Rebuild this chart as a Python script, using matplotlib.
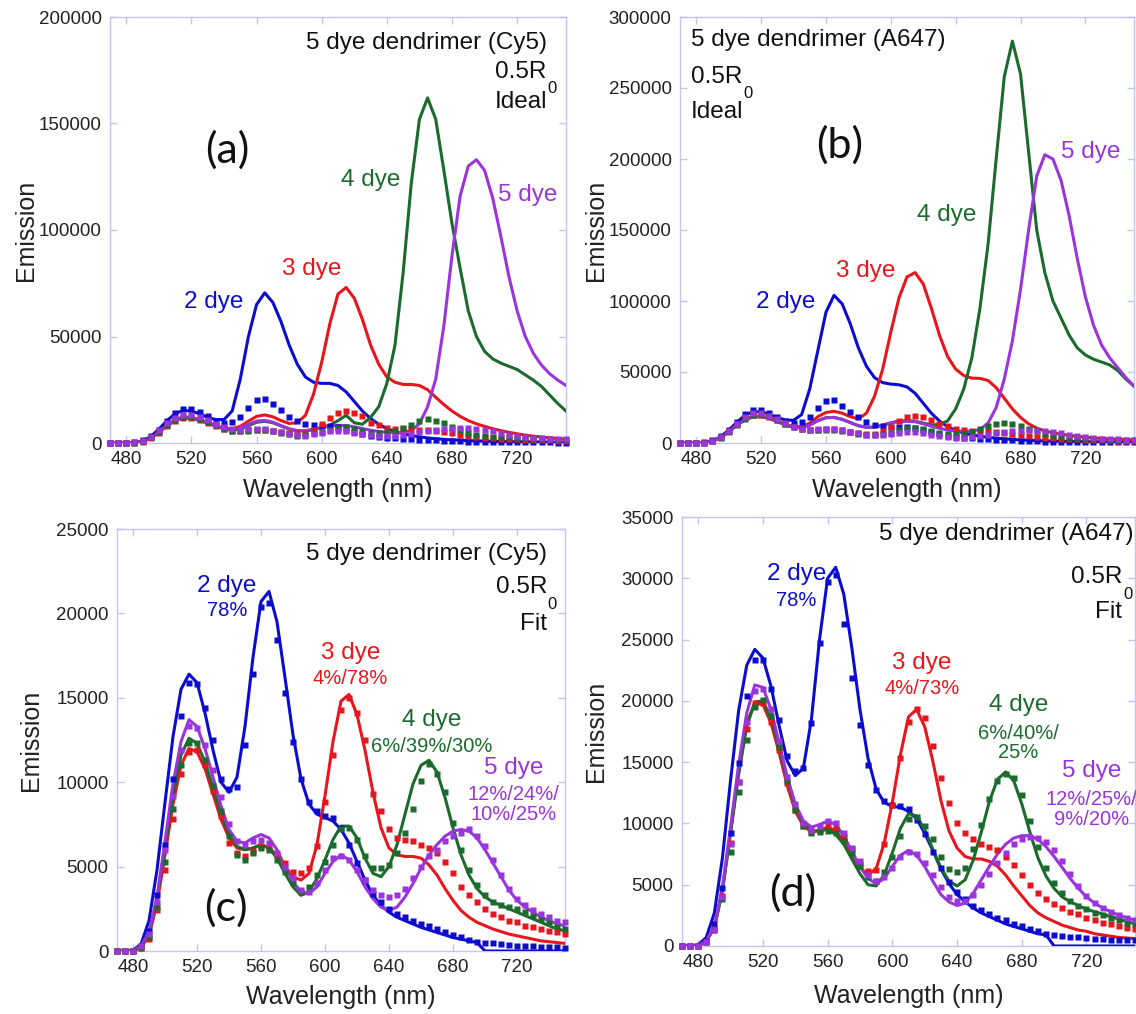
import numpy as np
import matplotlib
matplotlib.use("Agg")
import matplotlib.pyplot as plt

plt.rcParams['font.family'] = ['Liberation Sans', 'DejaVu Sans']

# Wavelength grid (nm), one sample every 5 nm
wl = np.arange(470, 751, 5)

# ---------------- Cy5 dendrimer: measured spectra (squares) ----------------
cy5_exp_2dye = [0, 0, 0, 300, 1200, 3300, 6300, 10200, 13900, 15900,
                15800, 14400, 12500, 10200, 9600, 9700, 12200, 16400, 20400, 20600,
                18400, 15300, 12400, 10200, 8800, 8300, 8000, 7900, 7300, 6300,
                5200, 4200, 3400, 2900, 2500, 2200, 2000, 1800, 1600, 1500,
                1300, 1100, 950, 800, 650, 550, 500, 450, 400, 350,
                320, 300, 280, 260, 240, 220, 200]
cy5_exp_3dye = [0, 0, 0, 200, 700, 2400, 4800, 7800, 10500, 11800,
                11900, 11000, 9500, 8000, 6400, 5800, 5600, 5900, 6200, 6100,
                5700, 5200, 4700, 4600, 4900, 6200, 8800, 11600, 14300, 15000,
                14100, 12500, 9300, 8300, 7200, 6700, 6600, 6500, 6300, 6100,
                5800, 5300, 4600, 3800, 3300, 2900, 2500, 2200, 2000, 1800,
                1700, 1500, 1400, 1300, 1200, 1100, 1000]
cy5_exp_4dye = [0, 0, 0, 200, 800, 2600, 5300, 8400, 11000, 12300,
                12300, 11300, 9800, 8300, 6800, 5700, 5400, 5800, 6100, 6000,
                5400, 4700, 4000, 3500, 3800, 4500, 5300, 6300, 7200, 7300,
                6600, 5600, 4900, 4900, 5100, 5800, 7000, 8400, 10100, 11100,
                10500, 9400, 7600, 6000, 4800, 3900, 3300, 2900, 2700, 2600,
                2500, 2300, 2100, 1900, 1700, 1500, 1300]
cy5_exp_5dye = [0, 0, 0, 300, 1000, 2900, 6000, 9200, 11900, 13300,
                13200, 12200, 10700, 9100, 7500, 6500, 6300, 6500, 6600, 6400,
                5800, 5000, 4300, 3600, 3500, 4000, 4800, 5500, 5600, 5400,
                4800, 4200, 3600, 3300, 3200, 3300, 3700, 4300, 5000, 5600,
                6000, 6500, 6800, 7000, 7200, 6800, 6200, 5400, 4500, 3700,
                3100, 2700, 2400, 2200, 2000, 1800, 1700]

# ---------------- Cy5 dendrimer: fitted spectra ----------------
cy5_fit_2dye = [0, 0, 50, 400, 1800, 4800, 8800, 12700, 15500, 16400,
                15900, 14100, 11900, 10000, 9400, 10300, 13300, 17400, 20700, 21300,
                19500, 16200, 12800, 10200, 8700, 8100, 7900, 7700, 7200, 6400,
                5300, 4200, 3300, 2700, 2300, 2000, 1800, 1600, 1400, 1250,
                1100, 950, 800, 700, 600, 500, 0, 0, 0, 0,
                0, 0, 0, 0, 0, 0, 0]
cy5_fit_3dye = [0, 0, 0, 200, 900, 2800, 5700, 8700, 11000, 12000,
                11800, 10800, 9300, 7800, 6700, 6100, 6000, 6100, 6300, 6100,
                5700, 5000, 4400, 4200, 4600, 6300, 9200, 12400, 14800, 15200,
                14000, 11900, 9400, 7300, 6100, 5700, 5600, 5600, 5500, 5100,
                4500, 3700, 3000, 2400, 2000, 1700, 1500, 1300, 1150, 1000,
                900, 800, 700, 600, 550, 500, 450]
cy5_fit_4dye = [0, 0, 0, 300, 1000, 3100, 6100, 9200, 11600, 12600,
                12300, 11200, 9700, 8200, 6900, 6200, 6000, 6100, 6300, 6100,
                5500, 4600, 3800, 3300, 3500, 4300, 5400, 6600, 7400, 7400,
                6700, 5500, 4600, 4400, 5000, 6300, 8100, 9900, 11000, 11300,
                10600, 9100, 7300, 5700, 4500, 3700, 3200, 2900, 2700, 2500,
                2300, 2100, 1900, 1700, 1500, 1300, 1200]
cy5_fit_5dye = [0, 0, 0, 300, 1100, 3200, 6500, 9900, 12400, 13700,
                13300, 12000, 10300, 8600, 7200, 6500, 6400, 6700, 6900, 6700,
                6000, 5000, 4100, 3500, 3400, 3800, 4600, 5300, 5700, 5400,
                4700, 3800, 3100, 2600, 2400, 2600, 3200, 4000, 4900, 5700,
                6300, 6800, 7100, 7200, 7100, 6700, 6000, 5200, 4400, 3600,
                3000, 2600, 2300, 2000, 1800, 1600, 1500]

# ---------------- Cy5 dendrimer: ideal spectra ----------------
cy5_ideal_2dye = [0, 0, 0, 200, 1000, 3000, 6500, 10500, 13800, 15300,
                  15000, 13700, 12000, 11000, 11000, 15000, 30000, 50000, 65000, 70500,
                  66000, 57000, 46000, 37000, 31000, 28500, 28000, 28000, 27000, 24000,
                  19500, 15000, 11500, 8800, 6800, 5300, 4300, 3500, 2900, 2400,
                  2000, 1700, 1500, 1300, 1100, 1000, 900, 800, 700, 650,
                  600, 550, 500, 450, 400, 380, 350]
cy5_ideal_3dye = [0, 0, 0, 150, 700, 2300, 5200, 8400, 11000, 12200,
                  12000, 11000, 9700, 8200, 7000, 6700, 7800, 10300, 12500, 13200,
                  12300, 10500, 9200, 9500, 13000, 23000, 38000, 56000, 70000, 73000,
                  68000, 58000, 46000, 37000, 31000, 28500, 27500, 27500, 27000, 25000,
                  21500, 18000, 15000, 12500, 10500, 9000, 7800, 6700, 5800, 5000,
                  4300, 3700, 3200, 2800, 2400, 2100, 1800]
cy5_ideal_4dye = [0, 0, 0, 150, 700, 2200, 5000, 8100, 10600, 11800,
                  11600, 10600, 9300, 7900, 6600, 6000, 6500, 8200, 9700, 10200,
                  9500, 8000, 6500, 5700, 5700, 6300, 7300, 8400, 10500, 13000,
                  9500, 8800, 12000, 17000, 28000, 46000, 80000, 122000, 152000, 162000,
                  152000, 128000, 103000, 82000, 62000, 50000, 43000, 39500, 37500, 36000,
                  34500, 32000, 29500, 26500, 22500, 18500, 15000]
cy5_ideal_5dye = [0, 0, 0, 150, 700, 2200, 5000, 8100, 10600, 11800,
                  11600, 10600, 9300, 7900, 6700, 6300, 7000, 8800, 10300, 10600,
                  9800, 8200, 6700, 5800, 5800, 6400, 7200, 8000, 8300, 8200,
                  7600, 6800, 6000, 5400, 5000, 4800, 5000, 6000, 9000, 17000,
                  30000, 55000, 88000, 116000, 130000, 133000, 128000, 115000, 97000, 78000,
                  62000, 50000, 42000, 36500, 32500, 29500, 27000]

# ---------------- A647 dendrimer: measured spectra (squares) ----------------
a647_exp_2dye = [0, 0, 0, 400, 1800, 4700, 9200, 14900, 20400, 23300,
                 23300, 21000, 18400, 15500, 14300, 14500, 18200, 24700, 29700, 30300,
                 26300, 21900, 18000, 14800, 12700, 11800, 11500, 11400, 11200, 10300,
                 9100, 7700, 6400, 5200, 4400, 3800, 3300, 2900, 2600, 2300,
                 2100, 1800, 1600, 1400, 1200, 1000, 900, 800, 750, 700,
                 650, 600, 550, 500, 500, 450, 450]
a647_exp_3dye = [0, 0, 0, 300, 1400, 4100, 8400, 13400, 17700, 19800,
                 19800, 18300, 16000, 13300, 11100, 9800, 9300, 9500, 9800, 9600,
                 8900, 7900, 6700, 6100, 6200, 8300, 11500, 15300, 18300, 19300,
                 18600, 16300, 13700, 11700, 10000, 9200, 8700, 8300, 8100, 7800,
                 7300, 6600, 5800, 5000, 4300, 3800, 3400, 3100, 2800, 2600,
                 2300, 2100, 1900, 1800, 1600, 1500, 1400]
a647_exp_4dye = [0, 0, 0, 300, 1300, 3800, 7700, 12600, 16800, 19500,
                 20100, 18800, 16200, 13500, 11100, 9800, 9200, 9300, 9400, 9200,
                 8600, 7600, 6500, 5600, 5300, 6000, 7300, 9000, 10400, 10500,
                 9800, 8700, 7300, 6300, 6000, 6400, 7900, 9900, 12000, 13500,
                 14000, 13700, 12300, 10200, 8100, 6400, 5100, 4300, 3700, 3300,
                 3000, 2700, 2500, 2300, 2100, 1900, 1800]
a647_exp_5dye = [0, 0, 0, 300, 1300, 4000, 8300, 13400, 18300, 20800,
                 21000, 19300, 16700, 13800, 11600, 10000, 9500, 9800, 10200, 10000,
                 9200, 8000, 6900, 5800, 5300, 5600, 6400, 7300, 7700, 7500,
                 6800, 5800, 4800, 4000, 3700, 3700, 4200, 5000, 5900, 6800,
                 7600, 8300, 8700, 8900, 8800, 8500, 7800, 6900, 5900, 4900,
                 4100, 3500, 3100, 2800, 2500, 2300, 2100]

# ---------------- A647 dendrimer: fitted spectra ----------------
a647_fit_2dye = [0, 0, 100, 700, 2700, 7200, 13500, 19200, 22900, 24200,
                 23500, 21200, 18000, 15100, 13900, 14500, 18500, 25000, 30000, 30900,
                 28700, 24300, 19300, 15300, 12800, 11700, 11400, 11300, 11000, 10400,
                 9200, 7800, 6300, 5100, 4200, 3600, 3100, 2700, 2400, 2100,
                 1800, 1600, 1400, 1200, 1000, 900, 0, 0, 0, 0,
                 0, 0, 0, 0, 0, 0, 0]
a647_fit_3dye = [0, 0, 0, 400, 1500, 4600, 9300, 14300, 18200, 19800,
                 19700, 18200, 15800, 13100, 11000, 9800, 9300, 9400, 9700, 9400,
                 8600, 7500, 6400, 5800, 6300, 8400, 11700, 15600, 18700, 19300,
                 17900, 15100, 11900, 9400, 8000, 7300, 7100, 7100, 6900, 6500,
                 5800, 4900, 4100, 3300, 2700, 2300, 2000, 1700, 1500, 1300,
                 1200, 1000, 900, 800, 700, 650, 600]
a647_fit_4dye = [0, 0, 0, 400, 1500, 4500, 9200, 14000, 17900, 19900,
                 20000, 18600, 16200, 13600, 11400, 10000, 9400, 9400, 9500, 9100,
                 8300, 7100, 5900, 5000, 4900, 5800, 7600, 9600, 10800, 10600,
                 9500, 7900, 6400, 5300, 4900, 5400, 7000, 9300, 11800, 13600,
                 14200, 13500, 11600, 9300, 7200, 5700, 4700, 4000, 3600, 3300,
                 3000, 2800, 2600, 2400, 2200, 2000, 1800]
a647_fit_5dye = [0, 0, 0, 400, 1600, 4800, 9700, 14800, 19000, 21300,
                 21100, 19300, 16600, 13800, 11600, 10200, 9700, 9900, 10200, 9900,
                 9000, 7700, 6500, 5500, 5100, 5500, 6500, 7400, 7800, 7400,
                 6500, 5300, 4200, 3600, 3300, 3500, 4300, 5400, 6500, 7500,
                 8300, 8800, 9000, 9000, 8700, 8100, 7300, 6400, 5500, 4700,
                 4000, 3500, 3100, 2800, 2500, 2300, 2100]

# ---------------- A647 dendrimer: ideal spectra ----------------
a647_ideal_2dye = [0, 0, 0, 300, 1400, 4400, 9000, 14500, 19500, 22000,
                   22000, 20300, 18000, 16200, 16000, 20000, 38000, 65000, 92000, 104000,
                   98000, 84000, 67000, 54000, 46000, 42500, 41500, 41000, 39500, 35000,
                   28000, 21000, 15500, 11500, 8800, 7000, 5700, 4800, 4000, 3400,
                   2900, 2500, 2200, 1900, 1700, 1500, 1300, 1200, 1100, 1000,
                   950, 900, 850, 800, 750, 700, 700]
a647_ideal_3dye = [0, 0, 0, 300, 1200, 3800, 8000, 12800, 16600, 18800,
                   19000, 17800, 15500, 13000, 11500, 11500, 14000, 18500, 21500, 22300,
                   21000, 18500, 17000, 21000, 33000, 52000, 78000, 102000, 117000, 120000,
                   112000, 95000, 76000, 61000, 52000, 47500, 45700, 45500, 44000, 39000,
                   31500, 24000, 18000, 13500, 10500, 8500, 7200, 6200, 5400, 4700,
                   4100, 3600, 3200, 2900, 2600, 2400, 2200]
a647_ideal_4dye = [0, 0, 0, 300, 1200, 3700, 7800, 12500, 16300, 18400,
                   18600, 17300, 15100, 12700, 11000, 10800, 12600, 15700, 17800, 18000,
                   16700, 14400, 12200, 11000, 11200, 12500, 14200, 15400, 15800, 15300,
                   14000, 12800, 13000, 15500, 24000, 38000, 60000, 95000, 140000, 200000,
                   258000, 283000, 260000, 205000, 150000, 120000, 100000, 88000, 76000, 67000,
                   62000, 59000, 57000, 55000, 51000, 45000, 40000]
a647_ideal_5dye = [0, 0, 0, 300, 1200, 3700, 7800, 12500, 16300, 18400,
                   18600, 17300, 15100, 12700, 11000, 10800, 12600, 15700, 17800, 18000,
                   16700, 14400, 12200, 11000, 11200, 12500, 14200, 15000, 15200, 15000,
                   13500, 11800, 10300, 9200, 8500, 8200, 8300, 9500, 14000, 25000,
                   45000, 72000, 108000, 150000, 188000, 203000, 200000, 185000, 160000, 130000,
                   103000, 83000, 69000, 60000, 53000, 46000, 40000]

dye_labels = ["2 dye", "3 dye", "4 dye", "5 dye"]
colors = ["#0c0cd0", "#e8161c", "#1b6b2d", "#9b34dc"]
frame_color = "#c4c4ec"
text_color = "#111111"

W, H = 1136, 1014
fig = plt.figure(figsize=(W / 100, H / 100), dpi=100)


def px_axes(left, right, top, bottom):
    return fig.add_axes([left / W, 1 - bottom / H, (right - left) / W, (bottom - top) / H])


def style_axes(ax, ymax, ystep, ylab_x, xlab_y):
    ax.set_xlim(470, 750)
    ax.set_ylim(0, ymax)
    ax.set_xticks(np.arange(480, 721, 40))
    ax.set_yticks(np.arange(0, ymax + 1, ystep))
    for s in ax.spines.values():
        s.set_color(frame_color)
        s.set_linewidth(1.0)
    ax.tick_params(direction='in', length=5, width=1, color=frame_color,
                   top=True, right=True, labelsize=13.5, labelcolor='#222222', pad=6)
    ax.set_xlabel("Wavelength (nm)", fontsize=18, color='#222222')
    ax.set_ylabel("Emission", fontsize=18, color='#222222')
    ax.xaxis.set_label_coords(0.5, xlab_y)
    ax.yaxis.set_label_coords(ylab_x, 0.5)


def draw(ax, lines, points):
    for ys, c in zip(lines, colors):
        ax.plot(wl, ys, '-', color=c, lw=2.2, zorder=3, solid_joinstyle='round')
    for ys, c in zip(points, colors):
        ax.plot(wl, ys, 's', color=c, ms=4.8, mec='none', zorder=4, clip_on=False)


def header(ax, title, kind, x, ha, ys):
    ax.text(x if ha == 'left' else min(x + 0.0, 0.995), ys[0], title, transform=ax.transAxes,
            ha=ha, va='center', fontsize=17.5, color=text_color)
    r = ax.text(x, ys[1], "0.5R", transform=ax.transAxes, ha=ha, va='center',
                fontsize=17.5, color=text_color)
    # subscript 0 just below and right of the R
    ax.annotate("0", xy=(1, 0), xycoords=r, xytext=(0.5, -4.5),
                textcoords='offset points', ha='left', va='center', fontsize=12, color=text_color)
    ax.text(x, ys[2], kind, transform=ax.transAxes, ha=ha, va='center', fontsize=17.5, color=text_color)


def panel_letter(ax, s, x, y):
    ax.text(x, y, s, transform=ax.transAxes, ha='center', va='center', fontsize=31,
            family=['Lato', 'DejaVu Sans'], color=text_color)


# (a) Cy5, ideal
ax_a = px_axes(110, 566, 17, 443)
draw(ax_a, [cy5_ideal_2dye, cy5_ideal_3dye, cy5_ideal_4dye, cy5_ideal_5dye],
     [cy5_exp_2dye, cy5_exp_3dye, cy5_exp_4dye, cy5_exp_5dye])
style_axes(ax_a, 200000, 50000, -0.158, -0.082)
header(ax_a, "5 dye dendrimer (Cy5)", "Ideal", 0.958, 'right', [0.939, 0.872, 0.80])
panel_letter(ax_a, "(a)", 0.257, 0.688)
for lab, c, (x, y) in zip(dye_labels, colors,
                          [(0.228, 0.331), (0.443, 0.408), (0.572, 0.617), (0.917, 0.582)]):
    ax_a.text(x, y, lab, transform=ax_a.transAxes, ha='center', va='center', fontsize=17.5, color=c)

# (b) A647, ideal
ax_b = px_axes(680, 1134, 17, 443)
draw(ax_b, [a647_ideal_2dye, a647_ideal_3dye, a647_ideal_4dye, a647_ideal_5dye],
     [a647_exp_2dye, a647_exp_3dye, a647_exp_4dye, a647_exp_5dye])
style_axes(ax_b, 300000, 50000, -0.159, -0.082)
header(ax_b, "5 dye dendrimer (A647)", "Ideal", 0.024, 'left', [0.946, 0.86, 0.777])
panel_letter(ax_b, "(b)", 0.352, 0.70)
for lab, c, (x, y) in zip(dye_labels, colors,
                          [(0.232, 0.331), (0.408, 0.404), (0.587, 0.535), (0.904, 0.683)]):
    ax_b.text(x, y, lab, transform=ax_b.transAxes, ha='center', va='center', fontsize=17.5, color=c)

# (c) Cy5, fit
ax_c = px_axes(117, 565, 529, 951)
draw(ax_c, [cy5_fit_2dye, cy5_fit_3dye, cy5_fit_4dye, cy5_fit_5dye],
     [cy5_exp_2dye, cy5_exp_3dye, cy5_exp_4dye, cy5_exp_5dye])
style_axes(ax_c, 25000, 5000, -0.166, -0.08)
header(ax_c, "5 dye dendrimer (Cy5)", "Fit", 0.96, 'right', [0.94, 0.862, 0.776])
panel_letter(ax_c, "(c)", 0.242, 0.103)
c_labels = [("2 dye", "78%", 0.245, 0.866, 0.808),
            ("3 dye", "4%/78%", 0.521, 0.705, 0.646),
            ("4 dye", "6%/39%/30%", 0.703, 0.547, 0.484),
            ("5 dye", "12%/24%/\n10%/25%", 0.886, 0.434, 0.347)]
for (lab, pct, x, y1, y2), c in zip(c_labels, colors):
    ax_c.text(x, y1, lab, transform=ax_c.transAxes, ha='center', va='center', fontsize=17.5, color=c)
    ax_c.text(x, y2, pct, transform=ax_c.transAxes, ha='center', va='center', fontsize=14.5,
              color=c, linespacing=1.05)

# (d) A647, fit
ax_d = px_axes(682, 1135, 517, 946)
draw(ax_d, [a647_fit_2dye, a647_fit_3dye, a647_fit_4dye, a647_fit_5dye],
     [a647_exp_2dye, a647_exp_3dye, a647_exp_4dye, a647_exp_5dye])
style_axes(ax_d, 35000, 5000, -0.163, -0.089)
header(ax_d, "5 dye dendrimer (A647)", "Fit", 0.972, 'right', [0.961, 0.86, 0.779])
ax_d.texts[0].set_x(0.996)
panel_letter(ax_d, "(d)", 0.245, 0.124)
d_labels = [("2 dye", "78%", 0.253, 0.868, 0.806),
            ("3 dye", "4%/73%", 0.53, 0.659, 0.601),
            ("4 dye", "6%/40%/\n25%", 0.743, 0.562, 0.473),
            ("5 dye", "12%/25%/\n9%/20%", 0.904, 0.407, 0.318)]
for (lab, pct, x, y1, y2), c in zip(d_labels, colors):
    ax_d.text(x, y1, lab, transform=ax_d.transAxes, ha='center', va='center', fontsize=17.5, color=c)
    ax_d.text(x, y2, pct, transform=ax_d.transAxes, ha='center', va='center', fontsize=14.5,
              color=c, linespacing=1.05)

fig.savefig("out.png", dpi=100)
